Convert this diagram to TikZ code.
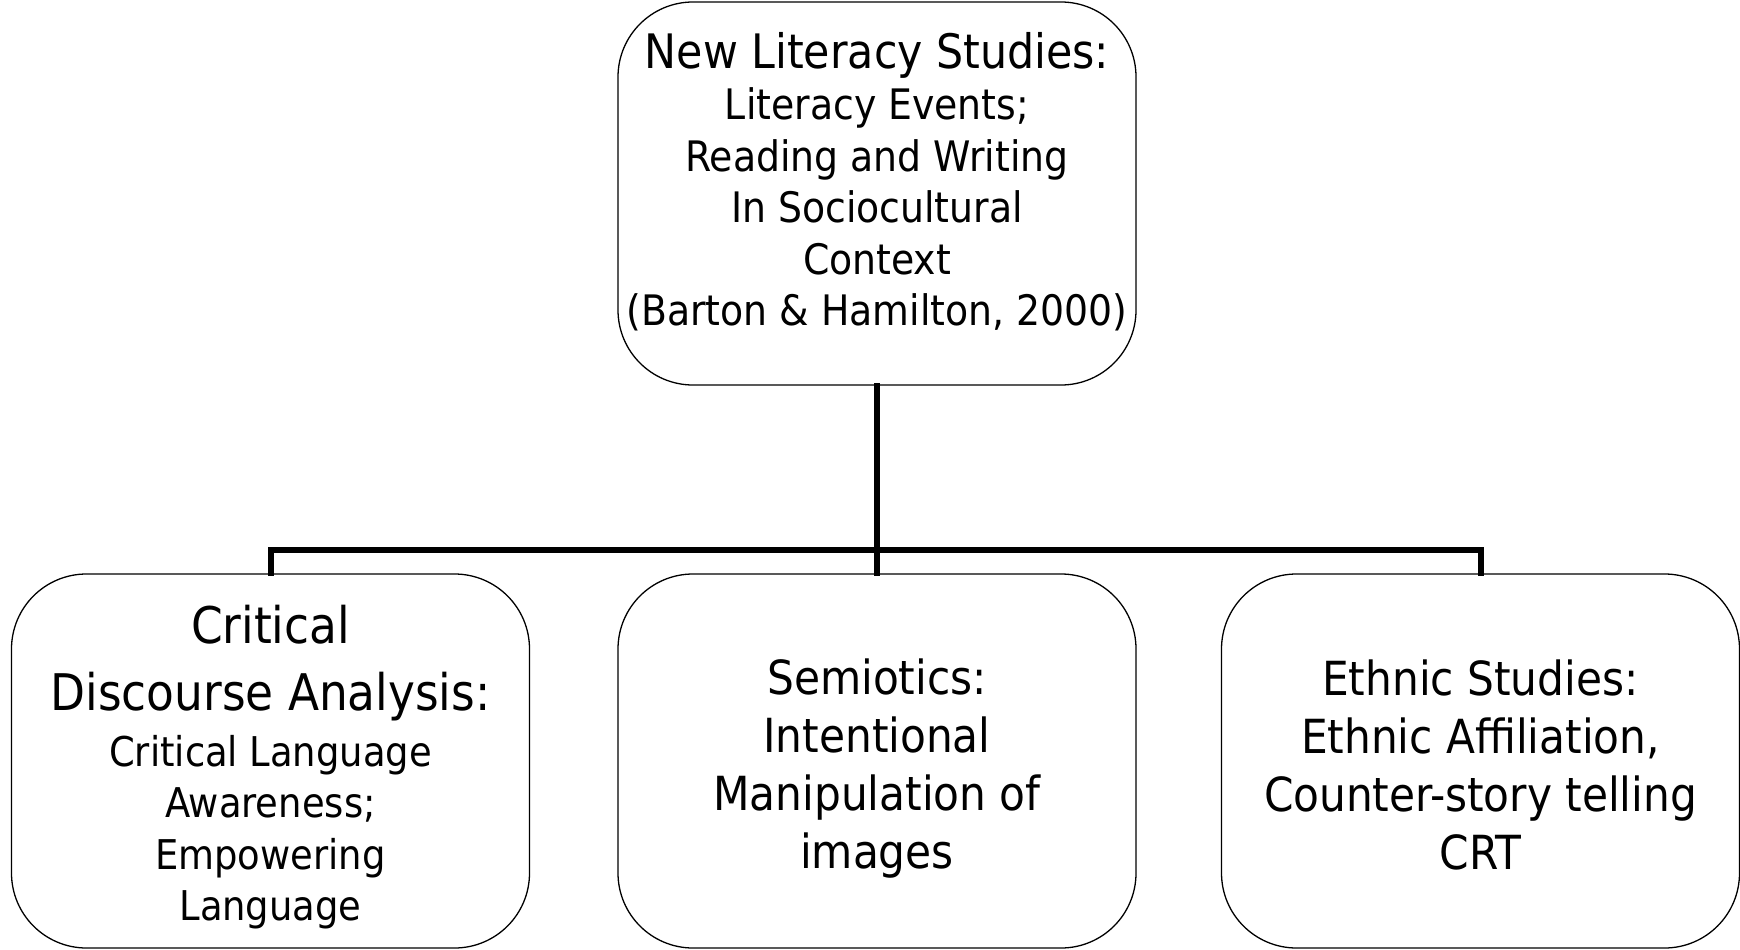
\documentclass[tikz,border=0pt]{standalone}
\usepackage{fontspec}
\setmainfont{DejaVu Sans Condensed}
\newcommand{\bigtxt}{\fontsize{47}{58}\selectfont}
\newcommand{\hdtxt}{\fontsize{50.5}{60}\selectfont}
\newcommand{\smtxt}{\fontsize{42}{51.5}\selectfont}
\newcommand{\lsmtxt}{\fontsize{41}{51.5}\selectfont}
\begin{document}
\begin{tikzpicture}[x=1pt,y=-1pt,
  box/.style={draw=black,line width=1.3pt,rounded corners=75pt,minimum width=518pt,align=center,inner sep=0pt},
  link/.style={line width=6pt,line cap=rect}]
\useasboundingbox (0,0) rectangle (1740,950);
\node[box,minimum height=383pt,font=\smtxt] (top) at (877,193.5)
  {{\fontsize{47.5}{52}\selectfont New Literacy Studies:}\\
   Literacy Events;\\ Reading and Writing\\ In Sociocultural\\ Context\\
   (Barton \& Hamilton, 2000)\rule[-29pt]{0pt}{29pt}};
\node[box,minimum height=374pt,font=\lsmtxt] (left) at (270.5,761)
  {\hdtxt\rule{0pt}{51pt}Critical\\[15.5pt]
   \hdtxt Discourse Analysis:\\[4pt]
   Critical Language\\ Awareness;\\ Empowering\\ Language};
\node[box,minimum height=374pt,font=\bigtxt] (mid) at (877,761)
  {\rule{0pt}{51pt}Semiotics:\\ Intentional\\ Manipulation of\\ images};
\node[box,minimum height=374pt,font=\bigtxt] (right) at (1480.5,761)
  {\rule{0pt}{43pt}Ethnic Studies:\\ Ethnic Affiliation,\\ Counter-story telling\\ CRT};
\coordinate (j) at (877,550);
\draw[link] (top.south) -- (j);
\draw[link] (left.north) |- (j) -| (right.north);
\draw[link] (j) -- (mid.north);
\end{tikzpicture}
\end{document}
